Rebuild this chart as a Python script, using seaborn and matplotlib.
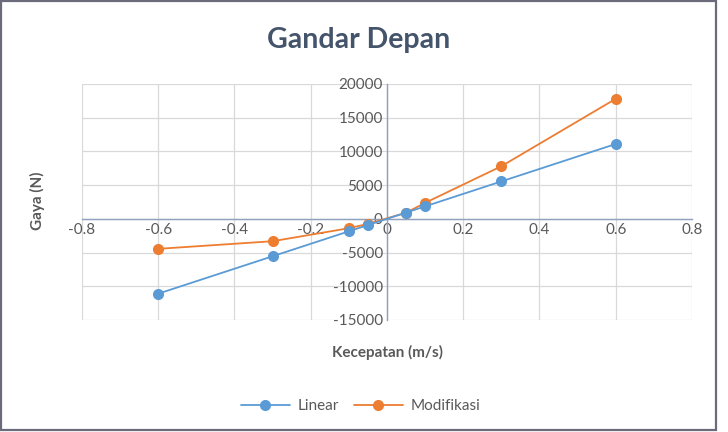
import numpy as np
import pandas as pd
import matplotlib
matplotlib.use('Agg')
import matplotlib.pyplot as plt
import seaborn as sns
from matplotlib.patches import Rectangle

# Data
kecepatan = [-0.6, -0.3, -0.1, -0.05, 0.05, 0.1, 0.3, 0.6]
gaya_linear = [-11100, -5550, -1850, -925, 925, 1850, 5550, 11100]
gaya_modifikasi = [-4450, -3320, -1390, -750, 900, 2370, 7800, 17800]
series_names = ['Linear', 'Modifikasi']
series_colors = ['#5B9BD5', '#ED7D31']
x_ticks = [-0.8, -0.6, -0.4, -0.2, 0, 0.2, 0.4, 0.6, 0.8]
y_ticks = [-15000, -10000, -5000, 0, 5000, 10000, 15000, 20000]

df = pd.DataFrame({
    'Kecepatan': kecepatan * 2,
    'Gaya': gaya_linear + gaya_modifikasi,
    'Seri': [series_names[0]] * len(kecepatan) + [series_names[1]] * len(kecepatan),
})

sns.set_theme(style='white')
plt.rcParams['font.family'] = ['Lato', 'DejaVu Sans']

fig = plt.figure(figsize=(7.28, 4.32), dpi=100)
ax = fig.add_axes([0.1126, 0.2593, 0.8379, 0.5463])

# Modifikasi first so that Linear sits on top, as in the original
sns.lineplot(data=df, x='Kecepatan', y='Gaya', hue='Seri',
             hue_order=series_names[::-1],
             palette=dict(zip(series_names, series_colors)),
             marker='o', markersize=8, markeredgewidth=0, linewidth=1.3,
             sort=False, ax=ax, legend=False)

ax.set_xlim(-0.8, 0.8)
ax.set_ylim(-15000, 20000)
ax.set_xticks(x_ticks)
ax.set_yticks(y_ticks)
ax.set_xticklabels([f'{t:g}' for t in x_ticks])
ax.set_yticklabels([f'{t:d}' for t in y_ticks])
ax.grid(True, color='#D9D9D9', linewidth=0.9)
ax.set_axisbelow(True)

# axes cross at zero
for side in ['top', 'right']:
    ax.spines[side].set_visible(False)
ax.spines['left'].set_position(('data', 0))
ax.spines['bottom'].set_position(('data', 0))
for side in ['left', 'bottom']:
    ax.spines[side].set_color('#8EA2C0')
    ax.spines[side].set_linewidth(1.0)
    ax.spines[side].set_zorder(1.5)
ax.tick_params(axis='both', length=0, labelsize=11, labelcolor='#595959', pad=3)

ax.set_xlabel('')
ax.set_ylabel('')
fig.text(0.532, 0.185, 'Kecepatan (m/s)', ha='center', va='center',
         fontsize=11, fontweight='bold', color='#595959')
fig.text(0.052, 0.535, 'Gaya (N)', ha='center', va='center', rotation=90,
         fontsize=11, fontweight='bold', color='#595959')
fig.text(0.493, 0.907, 'Gandar Depan', ha='center', va='center',
         fontsize=20.5, fontweight='bold', color='#44546A')

handles = [plt.Line2D([], [], color=c, marker='o', markersize=8, markeredgewidth=0,
                      linewidth=1.3) for c in series_colors]
fig.legend(handles, series_names, loc='center', bbox_to_anchor=(0.495, 0.06),
           ncol=2, frameon=False, fontsize=11, handlelength=3.2,
           columnspacing=1.0, handletextpad=0.5, labelcolor='#595959')

# chart border
fig.patches.append(Rectangle((0.001, 0.005), 0.983, 0.992, transform=fig.transFigure,
                             fill=False, edgecolor='#6B6B7B', linewidth=1.6))

fig.savefig('out.png', dpi=100)
